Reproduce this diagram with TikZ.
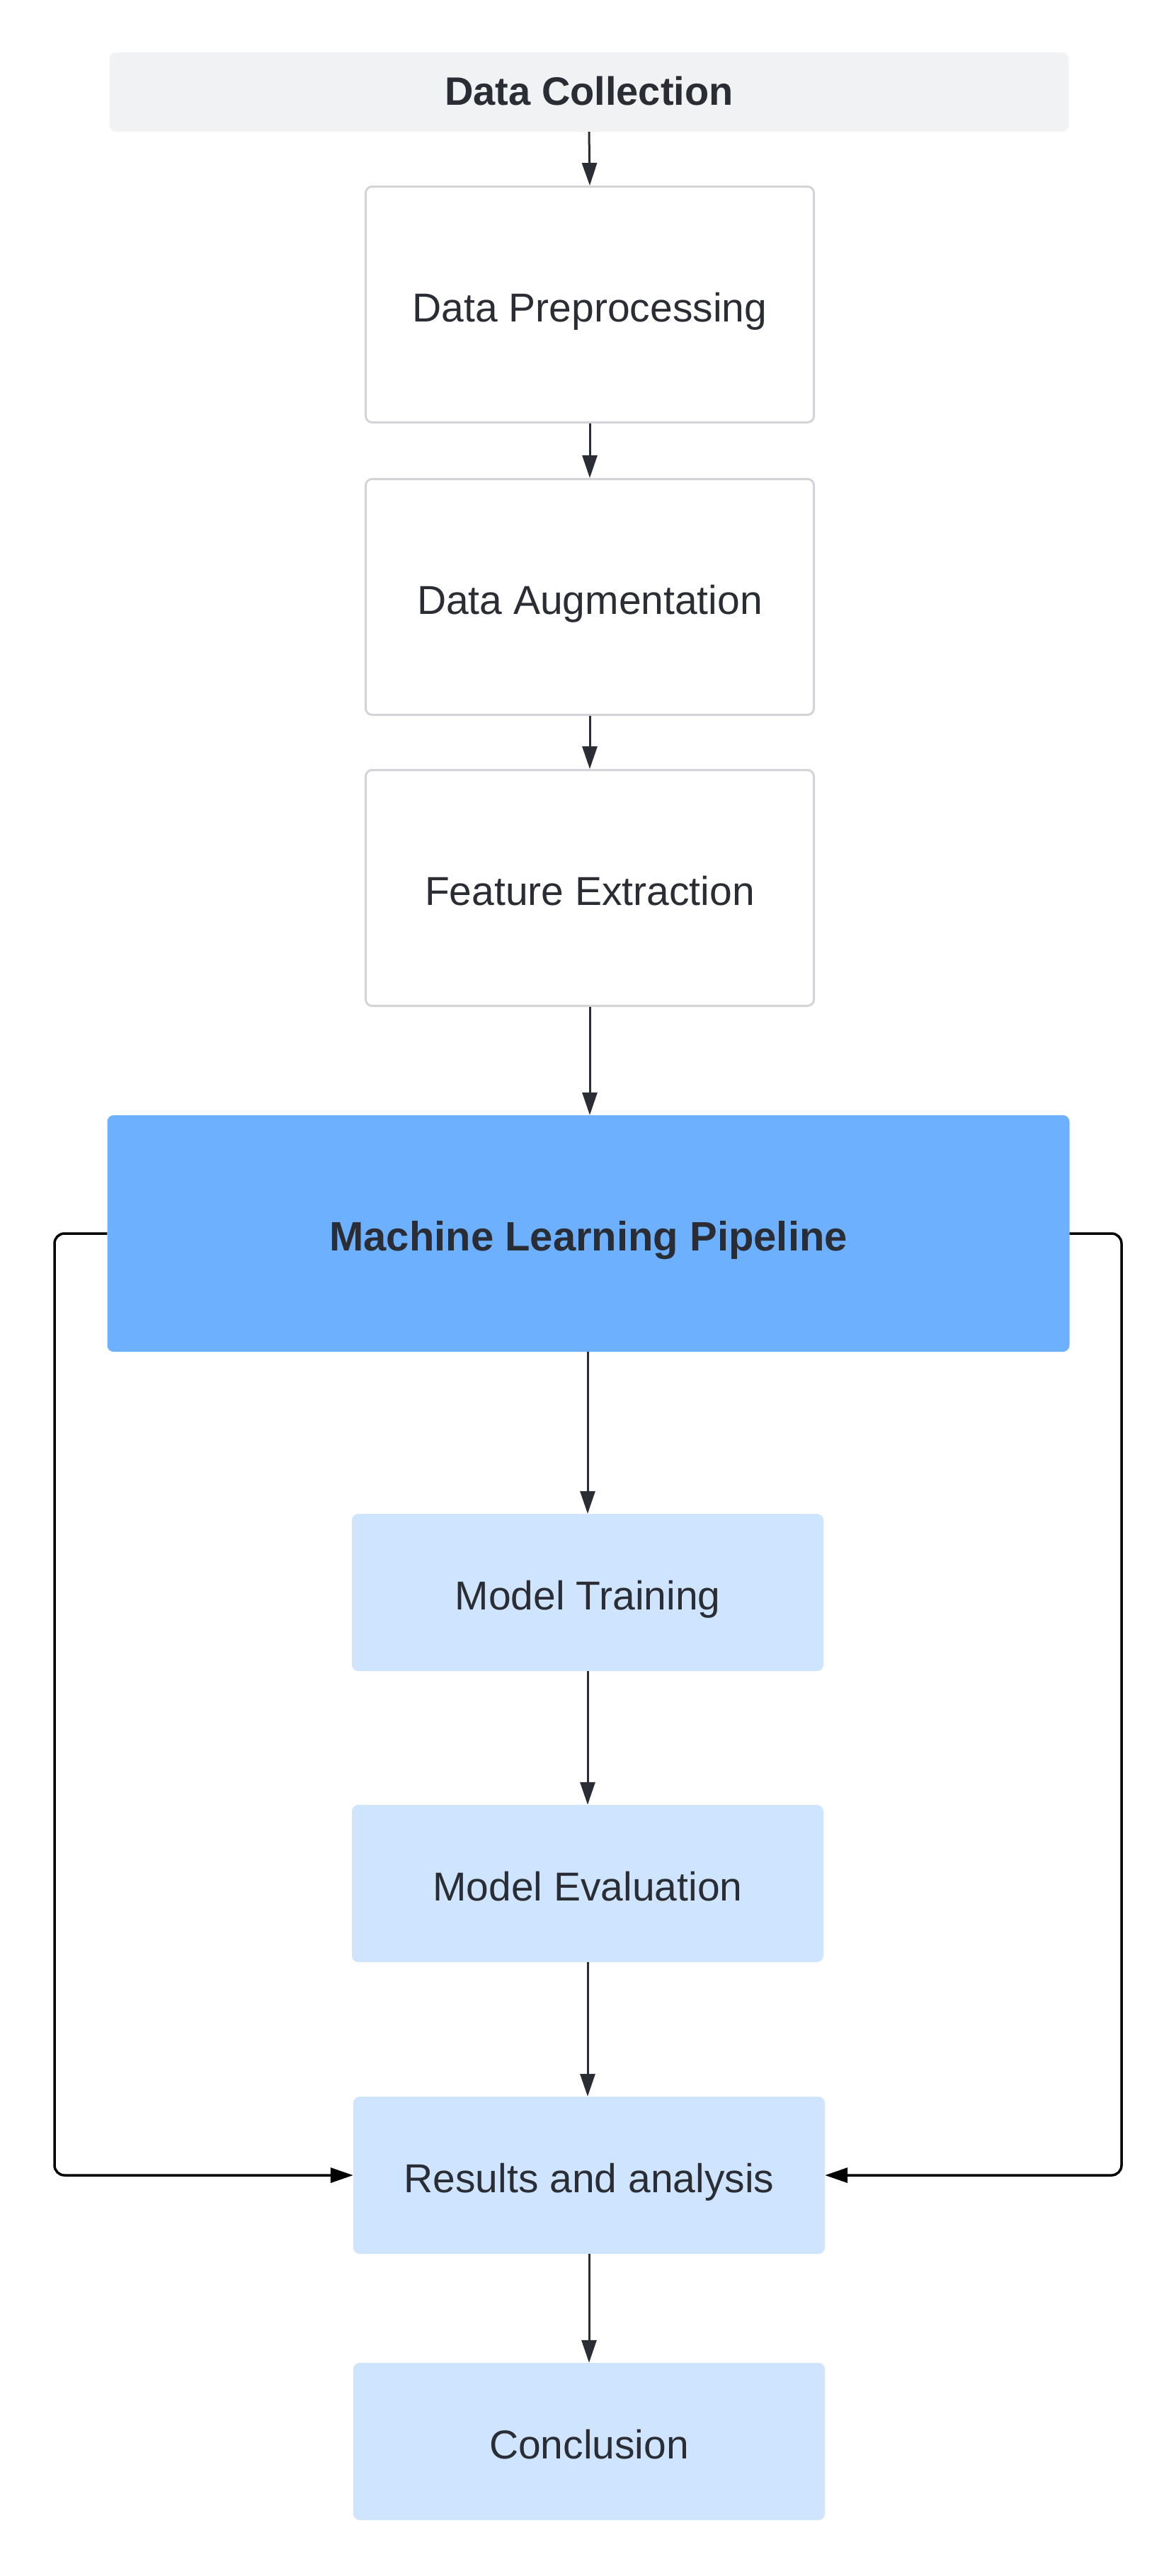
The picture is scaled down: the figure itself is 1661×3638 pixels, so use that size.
\documentclass[tikz,border=0pt]{standalone}
\usepackage{fontspec}
\setmainfont{Liberation Sans}
\usetikzlibrary{arrows.meta}
\definecolor{txtdark}{HTML}{2A2D34}
\definecolor{boxgray}{HTML}{D3D4D7}
\definecolor{hdrgray}{HTML}{F1F2F4}
\definecolor{mlblue}{HTML}{6CB0FE}
\definecolor{lightblue}{HTML}{CFE4FE}
\tikzset{
  base/.style={rectangle, inner sep=0pt, text=txtdark, font=\fontsize{57}{67}\selectfont, rounded corners=9pt, text height=52pt, text depth=3pt},
  hdrbox/.style={base, fill=hdrgray, minimum width=1355pt, minimum height=112pt, font=\fontsize{56}{66}\selectfont\bfseries, text height=44pt, text depth=8pt},
  whitebox/.style={base, fill=white, draw=boxgray, line width=3pt, minimum width=633pt, minimum height=333pt},
  mlbox/.style={base, fill=mlblue, minimum width=1359pt, minimum height=334pt, font=\fontsize{58}{68}\selectfont\bfseries},
  lightbox/.style={base, fill=lightblue, minimum width=666pt, minimum height=222pt},
  arr/.style={draw=txtdark, line width=3pt, -{Triangle[length=32pt,width=21pt]}},
  looparr/.style={draw=black, line width=3.5pt, rounded corners=14pt, -{Triangle[length=32pt,width=21pt]}}
}
\begin{document}
\begin{tikzpicture}[x=1pt,y=-1pt]
\useasboundingbox (0,0) rectangle (1661,3638);
\fill[white] (0,0) rectangle (1661,3638);
\node[hdrbox] (dc) at (832,130) {Data Collection};
\node[whitebox] (pre) at (833,430) {Data Preprocessing};
\node[whitebox] (aug) at (833,843) {Data Augmentation};
\node[whitebox] (fe) at (833,1254) {Feature Extraction};
\node[mlbox] (ml) at (831,1742) {Machine Learning Pipeline};
\node[lightbox] (mt) at (830,2249) {Model Training};
\node[lightbox] (me) at (830,2660) {Model Evaluation};
\node[lightbox] (res) at (832,3072) {Results and analysis};
\node[lightbox] (con) at (832,3448) {Conclusion};
\coordinate (lt) at (77,1742);
\coordinate (lb) at (77,3072);
\coordinate (rt) at (1584,1742);
\coordinate (rb) at (1584,3072);
\draw[arr] (dc.south) -- (pre.north);
\draw[arr] (pre.south) -- (aug.north);
\draw[arr] (aug.south) -- (fe.north);
\draw[arr] (fe.south) -- (fe.south |- ml.north);
\draw[arr] (ml.south -| mt.north) -- (mt.north);
\draw[arr] (mt.south) -- (me.north);
\draw[arr] (me.south) -- (me.south |- res.north);
\draw[arr] (res.south) -- (con.north);
\draw[looparr] (ml.west) -- (lt) -- (lb) -- (res.west);
\draw[looparr] (ml.east) -- (rt) -- (rb) -- (res.east);
\end{tikzpicture}
\end{document}
